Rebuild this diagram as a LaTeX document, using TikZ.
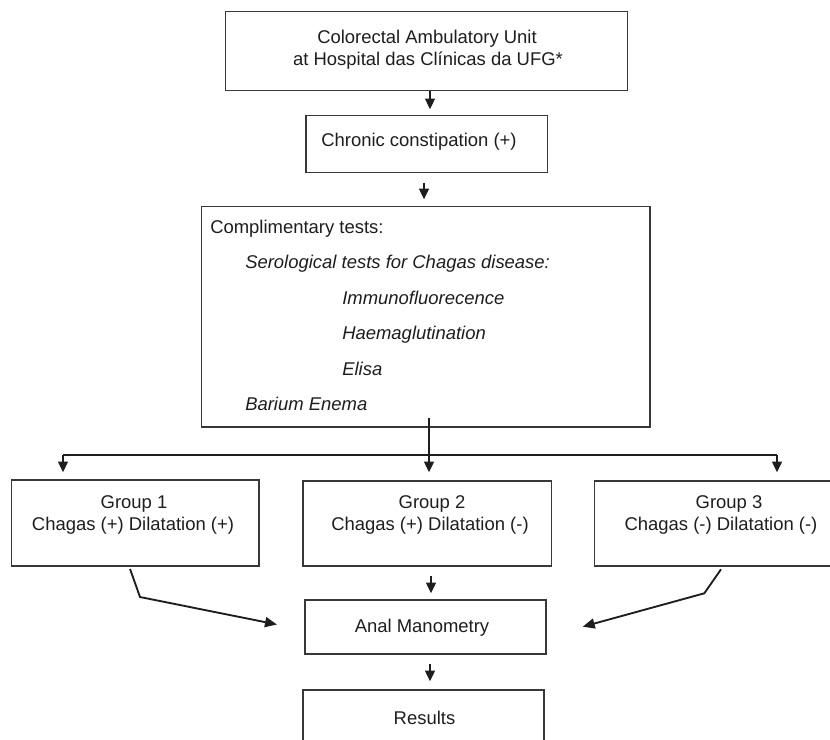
\documentclass[tikz,border=0pt]{standalone}
\usepackage{fontspec}
\setmainfont{Liberation Sans}
\usetikzlibrary{arrows.meta,fit,calc}
\definecolor{ln}{HTML}{383838}
\definecolor{tx}{HTML}{1E1E1E}
\begin{document}
\begin{tikzpicture}[x=0.75pt,y=-0.75pt,
  box/.style={draw=ln, line width=1.1pt, fill=white, inner sep=0pt, rectangle},
  txt/.style={text=tx, inner sep=0pt, anchor=base, font=\fontsize{13.84pt}{16.5pt}\selectfont},
  itxt/.style={text=tx, inner sep=0pt, anchor=base west, font=\fontsize{13.84pt}{16.5pt}\selectfont\itshape},
  arr/.style={draw=tx, line width=0.9pt, -{Triangle[length=8pt,width=7.5pt]}},
  thinline/.style={draw=tx, line width=0.9pt},
  arrb/.style={draw=tx, line width=1.4pt, -{Triangle[length=9pt,width=7.5pt]}}]
\useasboundingbox (0,0) rectangle (830,739);
\fill[white] (0,0) rectangle (830,739);
\clip (0,0) rectangle (830,739);

% boxes
\node[box, fit={(225.7,11.7)(627.7,90.7)}] (b1) {};
\node[box, fit={(306,115.7)(547.7,172.7)}] (b2) {};
\node[box, fit={(201.7,206.7)(650,427)}] (b3) {};
\node[box, fit={(11.7,480)(259,566)}] (g1) {};
\node[box, fit={(303,481)(551.6,566)}] (g2) {};
\node[box, fit={(594.3,481)(842,566)}] (g3) {};
\node[box, fit={(305,600)(546,654)}] (am) {};
\node[box, fit={(303,690)(544,770)}] (rs) {};

% texts
\node[txt] (t1a) at (427,43) {Colorectal Ambulatory Unit};
\node[txt] (t1b) at (428,65) {at Hospital das Clínicas da UFG*};
\node[txt, anchor=base west] (t2) at (321,146.5) {Chronic constipation (+)};
\node[txt, anchor=base west] (t3) at (210,233) {Complimentary tests:};
\node[itxt] (t4) at (245,268.5) {Serological tests for Chagas disease:};
\node[itxt] (t5) at (342,304) {Immunofluorecence};
\node[itxt] (t6) at (342,339.5) {Haemaglutination};
\node[itxt] (t7) at (342,375) {Elisa};
\node[itxt] (t8) at (245,410.5) {Barium Enema};
\node[txt] (tg1a) at (134,508.3) {Group 1};
\node[txt] (tg1b) at (133,530) {Chagas (+) Dilatation (+)};
\node[txt] (tg2a) at (432,508.3) {Group 2};
\node[txt] (tg2b) at (430,530) {Chagas (+) Dilatation (-)};
\node[txt] (tg3a) at (729,508.3) {Group 3};
\node[txt] (tg3b) at (721,530) {Chagas (-) Dilatation (-)};
\node[txt] (tam) at (422,632) {Anal Manometry};
\node[txt] (trs) at (424.5,724) {Results};

% helper coordinates
\coordinate (xa) at (430,0);
\coordinate (xb) at (424,0);
\coordinate (xd) at (431,0);
\coordinate (stemtop) at (429,418);
\coordinate (j) at (429,455);
\coordinate (hl) at (63,455);
\coordinate (hr) at (777,455);
\coordinate (g1s) at ($(g1.south)+(-5.3,2.3)$);
\coordinate (g1k) at (140,597);
\coordinate (g1e) at (277,624.5);
\coordinate (g3s) at (721,569.3);
\coordinate (g3k) at (704.3,593.3);
\coordinate (g3e) at (582.7,626.7);

% connectors
\draw[arr, shorten >=4.3pt] (b1.south -| xa) -- (b2.north -| xa);
\draw[arr, shorten <=6.8pt, shorten >=5pt] (b2.south -| xb) -- (b3.north -| xb);
\draw[thinline] (stemtop) -- (j);
\draw[thinline] (hl) -- (hr);
\draw[arr, shorten >=5.3pt] (hl) -- (g1.north -| hl);
\draw[arr, shorten >=6pt] (j) -- (g2.north -| j);
\draw[arr, shorten >=6pt] (hr) -- (g3.north -| hr);
\draw[arr, shorten <=6.8pt, shorten >=4.5pt] (g2.south -| xd) -- (am.north -| xd);
\draw[arr, shorten <=6.8pt, shorten >=6pt] (am.south -| xa) -- (rs.north -| xa);
\draw[arrb] (g1s) -- (g1k) -- (g1e);
\draw[arrb] (g3s) -- (g3k) -- (g3e);
\end{tikzpicture}
\end{document}
